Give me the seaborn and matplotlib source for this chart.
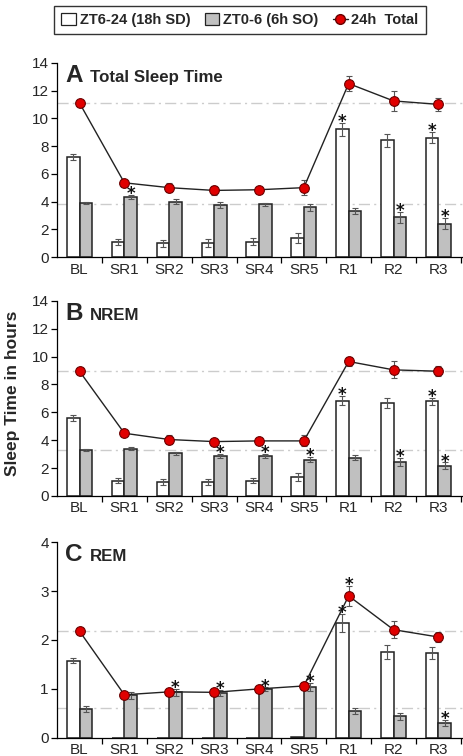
import numpy as np
import pandas as pd
import matplotlib
matplotlib.use("Agg")
import matplotlib.pyplot as plt
import seaborn as sns
from matplotlib.patches import Patch
from matplotlib.lines import Line2D

sns.set_theme(style="ticks")
plt.rcParams['font.family'] = ['Liberation Sans Narrow', 'Liberation Sans', 'DejaVu Sans']

categories = ["BL", "SR1", "SR2", "SR3", "SR4", "SR5", "R1", "R2", "R3"]
series_names = ["ZT6-24 (18h SD)", "ZT0-6 (6h SO)", "24h  Total"]

# Panel A: Total sleep time
a_white = [7.2, 1.1, 1.0, 1.0, 1.1, 1.35, 9.2, 8.4, 8.6]
a_white_err = [0.2, 0.2, 0.25, 0.3, 0.25, 0.35, 0.45, 0.5, 0.4]
a_grey = [3.9, 4.3, 4.0, 3.75, 3.8, 3.6, 3.3, 2.85, 2.4]
a_grey_err = [0.1, 0.15, 0.15, 0.2, 0.12, 0.25, 0.2, 0.4, 0.4]
a_total = [11.1, 5.35, 5.0, 4.8, 4.85, 5.0, 12.5, 11.25, 11.0]
a_total_err = [0.1, 0.2, 0.3, 0.3, 0.15, 0.55, 0.55, 0.75, 0.45]
a_ref = [11.1, 3.85]
a_star_white = ["R1", "R3"]
a_star_grey = ["SR1", "R2", "R3"]
a_star_total = []

# Panel B: NREM
b_white = [5.6, 1.1, 1.0, 1.0, 1.1, 1.35, 6.85, 6.65, 6.8]
b_white_err = [0.2, 0.2, 0.2, 0.25, 0.2, 0.3, 0.3, 0.35, 0.25]
b_grey = [3.3, 3.4, 3.05, 2.85, 2.85, 2.6, 2.75, 2.45, 2.15]
b_grey_err = [0.1, 0.1, 0.12, 0.15, 0.15, 0.18, 0.18, 0.3, 0.25]
b_total = [8.95, 4.5, 4.05, 3.9, 3.95, 3.95, 9.65, 9.05, 8.95]
b_total_err = [0.1, 0.2, 0.3, 0.2, 0.12, 0.4, 0.35, 0.6, 0.35]
b_ref = [9.0, 3.3]
b_star_white = ["R1", "R3"]
b_star_grey = ["SR3", "SR4", "SR5", "R2", "R3"]
b_star_total = []

# Panel C: REM
c_white = [1.58, 0.0, 0.0, 0.0, 0.0, 0.02, 2.35, 1.76, 1.74]
c_white_err = [0.05, 0.0, 0.0, 0.0, 0.0, 0.0, 0.18, 0.14, 0.12]
c_grey = [0.59, 0.87, 0.93, 0.92, 0.99, 1.04, 0.54, 0.44, 0.31]
c_grey_err = [0.07, 0.07, 0.07, 0.06, 0.04, 0.09, 0.06, 0.07, 0.06]
c_total = [2.18, 0.88, 0.94, 0.93, 1.0, 1.06, 2.9, 2.21, 2.06]
c_total_err = [0.05, 0.05, 0.06, 0.06, 0.03, 0.08, 0.2, 0.18, 0.1]
c_ref = [2.18, 0.6]
c_star_white = ["R1"]
c_star_grey = ["SR2", "SR3", "SR4", "SR5", "R3"]
c_star_total = ["R1"]

panels = [
    ("A", "Total Sleep Time", a_white, a_white_err, a_grey, a_grey_err, a_total, a_total_err,
     a_ref, a_star_white, a_star_grey, a_star_total, 14, [0, 2, 4, 6, 8, 10, 12, 14]),
    ("B", "NREM", b_white, b_white_err, b_grey, b_grey_err, b_total, b_total_err,
     b_ref, b_star_white, b_star_grey, b_star_total, 14, [0, 2, 4, 6, 8, 10, 12, 14]),
    ("C", "REM", c_white, c_white_err, c_grey, c_grey_err, c_total, c_total_err,
     c_ref, c_star_white, c_star_grey, c_star_total, 4, [0, 1, 2, 3, 4]),
]

fig = plt.figure(figsize=(4.64, 7.56), dpi=100)
axes_pos = [
    [0.123, 0.660, 0.875, 0.257],
    [0.123, 0.344, 0.875, 0.258],
    [0.123, 0.024, 0.875, 0.259],
]

grey_col = "#c0c0c0"
bw = 0.56
off = bw / 4


def star(ax, x, ytop):
    ax.annotate("*", xy=(x, ytop), xytext=(0, -3.0), textcoords="offset points",
                ha="center", va="baseline", fontsize=12, fontweight="bold",
                family="DejaVu Sans", color="#111111", zorder=8)


for pos, (lab, title, w, we, g, ge, t, te, ref, sw, sg, st, ymax, yticks) in zip(axes_pos, panels):
    ax = fig.add_axes(pos)
    df = pd.DataFrame({
        "cat": categories * 2,
        "val": list(w) + list(g),
        "grp": [series_names[0]] * len(categories) + [series_names[1]] * len(categories),
    })
    sns.barplot(data=df, x="cat", y="val", hue="grp", order=categories,
                hue_order=series_names[:2], palette=["white", grey_col],
                width=bw, edgecolor="#222222", linewidth=1.1, errorbar=None,
                legend=False, ax=ax, saturation=1)
    xs = np.arange(len(categories))
    for xv, yv, ev in zip(xs - off, w, we):
        if ev > 0:
            ax.errorbar(xv, yv, yerr=ev, fmt="none", ecolor="#555555", elinewidth=0.8,
                        capsize=2.5, capthick=0.8, zorder=4)
    ax.errorbar(xs + off, g, yerr=ge, fmt="none", ecolor="#555555", elinewidth=0.8,
                capsize=2.5, capthick=0.8, zorder=4)
    ax.errorbar(xs, t, yerr=te, fmt="none", ecolor="#555555", elinewidth=0.8,
                capsize=2.5, capthick=0.8, zorder=4)
    sns.lineplot(x=xs, y=t, ax=ax, color="#222222", linewidth=1.0, marker="o",
                 markersize=7, markerfacecolor="#e00000", markeredgecolor="#6a0000",
                 markeredgewidth=0.8, zorder=6)
    for r in ref:
        ax.axhline(r, color="#cccccc", linestyle=(0, (8, 3, 1.5, 3)), linewidth=1.0, zorder=0.5)
    for c in sw:
        i = categories.index(c)
        star(ax, i - off, w[i] + we[i])
    for c in sg:
        i = categories.index(c)
        star(ax, i + off, g[i] + ge[i])
    for c in st:
        i = categories.index(c)
        star(ax, i, t[i] + te[i])

    ax.set_xlim(-0.5, 8.55)
    ax.set_ylim(0, ymax)
    ax.set_yticks(yticks)
    ax.set_yticklabels([str(v) for v in yticks], fontsize=11)
    ax.set_xticks(xs)
    ax.set_xticklabels(categories, fontsize=11)
    ax.set_xticks(np.arange(len(categories)) + 0.5, minor=True)
    ax.tick_params(axis="x", which="major", length=0, pad=4)
    ax.tick_params(axis="x", which="minor", length=4, width=0.9, color="black")
    ax.tick_params(axis="y", length=4, width=0.9, color="black", pad=2)
    ax.set_xlabel("")
    ax.set_ylabel("")
    for s in ["top", "right"]:
        ax.spines[s].set_visible(False)
    for s in ["left", "bottom"]:
        ax.spines[s].set_color("black")
        ax.spines[s].set_linewidth(0.9)
    ax.text(0.02, 0.902, lab, transform=ax.transAxes, fontsize=17.5, fontweight="bold",
            va="baseline", ha="left")
    ax.text(0.08, 0.902, title, transform=ax.transAxes, fontsize=12.2, fontweight="bold",
            va="baseline", ha="left")

fig.text(0.026, 0.48, "Sleep Time in hours", rotation=90, fontsize=12.5, fontweight="bold",
         va="center", ha="center")

handles = [
    Patch(facecolor="white", edgecolor="#222222", linewidth=0.9),
    Patch(facecolor=grey_col, edgecolor="#222222", linewidth=0.9),
    Line2D([0], [0], color="#222222", linewidth=1.0, marker="o", markersize=7,
           markerfacecolor="#e00000", markeredgecolor="#6a0000"),
]
leg = fig.legend(handles, series_names, loc="upper center", bbox_to_anchor=(0.517, 1.002),
                 ncol=3, frameon=True, fancybox=False, edgecolor="black",
                 prop={"weight": "bold", "size": 10.5}, handlelength=1.0, handleheight=0.9,
                 handletextpad=0.25, columnspacing=1.0, borderpad=0.5)
leg.get_frame().set_linewidth(1.0)

fig.savefig("out.png", dpi=100)
